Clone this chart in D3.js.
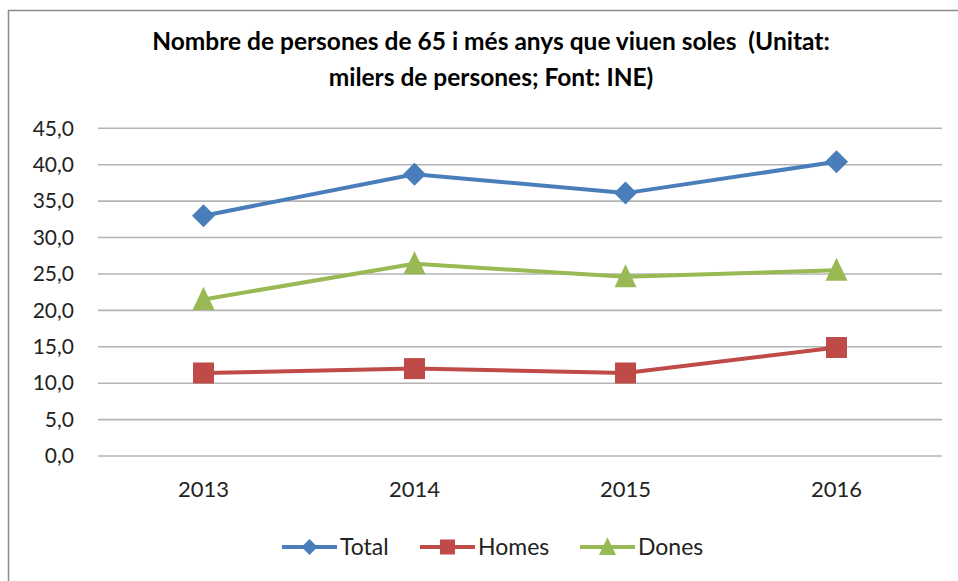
<!DOCTYPE html>
<html><head><meta charset="utf-8">
<script src="https://cdn.jsdelivr.net/npm/d3@7"></script>
<style>body{margin:0;background:#fff}svg{display:block}</style>
</head><body>
<svg id="c" width="958" height="581"></svg>
<script>
const years = ["2013","2014","2015","2016"];
const total = [33.0, 38.7, 36.1, 40.4];
const homes = [11.4, 12.0, 11.4, 14.9];
const dones = [21.5, 26.4, 24.6, 25.5];
const yTicks = [0,5,10,15,20,25,30,35,40,45];
const seriesNames = ["Total","Homes","Dones"];
const colors = ["#4a7ebb","#be4b48","#98b954"];
const titleLines = ["Nombre de persones de 65 i més anys que viuen soles  (Unitat:","milers de persones; Font: INE)"];

const svg = d3.select("#c");
const font = "'Lato','Open Sans',sans-serif";
svg.append("rect").attr("x",8.5).attr("y",10.5).attr("width",960).attr("height",600)
  .attr("fill","#fff").attr("stroke","#8c8c8c").attr("stroke-width",1.5);

const x = d3.scaleBand().domain(years).range([98,942]);
const y = d3.scaleLinear().domain([0,45]).range([456,128.3]);

// title
svg.append("g").selectAll("text").data(titleLines).join("text")
  .attr("x",491).attr("y",(d,i)=>50+i*36).attr("text-anchor","middle")
  .style("white-space","pre")
  .attr("font-family",font).attr("font-weight","bold").attr("font-size",24.5).attr("fill","#000")
  .text(d=>d);

// grid
svg.append("g").selectAll("line").data(yTicks).join("line")
  .attr("x1",98).attr("x2",942).attr("y1",d=>y(d)).attr("y2",d=>y(d))
  .attr("stroke","#b4b4b4").attr("stroke-width",1.6);

// y axis labels
const yAxis = svg.append("g").attr("transform","translate(98,0)")
  .call(d3.axisLeft(y).tickValues(yTicks).tickSize(0).tickPadding(24).tickFormat(d=>d3.format(".1f")(d).replace(".",",")));
yAxis.select(".domain").remove();
yAxis.selectAll("text").attr("font-family",font).attr("font-size",21).attr("fill","#222");

// x axis labels
const xAxis = svg.append("g").attr("transform","translate(0,456)")
  .call(d3.axisBottom(x).tickSize(0).tickPadding(25));
xAxis.select(".domain").remove();
xAxis.selectAll("text").attr("font-family",font).attr("font-size",22).attr("fill","#222");

// custom marker shapes (size = half-width)
const shapes = [
  r => `M0,${-r}L${r},0L0,${r}L${-r},0Z`,
  r => `M${-r},${-r}H${r}V${r}H${-r}Z`,
  r => `M0,${-r*1.15}L${r},${r*0.95}H${-r}Z`
];

const data = [total, homes, dones];
const line = d3.line().x((d,i)=>x(years[i])+x.bandwidth()/2).y(d=>y(d));

data.forEach((vals,s)=>{
  svg.append("path").datum(vals).attr("d",line).attr("fill","none")
    .attr("stroke",colors[s]).attr("stroke-width",4).attr("stroke-linejoin","round");
  svg.append("g").selectAll("path").data(vals).join("path")
    .attr("transform",(d,i)=>`translate(${x(years[i])+x.bandwidth()/2},${y(d)})`)
    .attr("d",shapes[s](s===0?11.5:s===1?10.5:11))
    .attr("fill",colors[s]);
});

// legend
const legX = [282, 420, 580];
const lg = svg.append("g");
seriesNames.forEach((n,s)=>{
  const g = lg.append("g").attr("transform",`translate(${legX[s]},547)`);
  g.append("line").attr("x1",0).attr("x2",55).attr("stroke",colors[s]).attr("stroke-width",4);
  g.append("path").attr("transform","translate(27.5,0)")
    .attr("d",shapes[s](s===0?8:s===1?7.5:8.5)).attr("fill",colors[s]);
  g.append("text").attr("x",58).attr("y",8).attr("font-family",font).attr("font-size",23)
    .attr("fill","#222").text(n);
});
</script>
</body></html>
